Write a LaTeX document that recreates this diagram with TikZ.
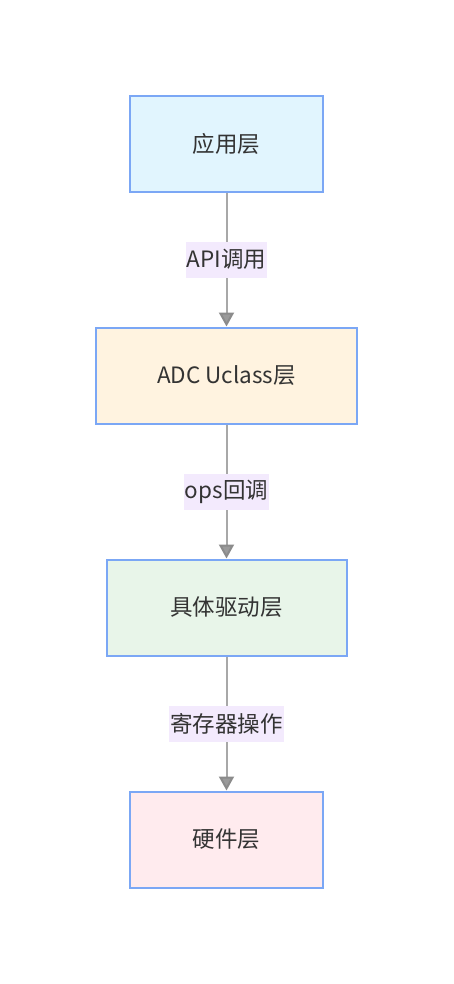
\documentclass[tikz,border=0pt]{standalone}
\usepackage{fontspec}
\setmainfont{Noto Sans CJK SC}
\usetikzlibrary{arrows.meta}
\definecolor{bordc}{HTML}{7BA7F5}
\definecolor{txtc}{HTML}{333333}
\definecolor{lblbg}{HTML}{F3EAFD}
\definecolor{edgec}{HTML}{A8A8A8}
\definecolor{headc}{HTML}{9A9A9A}
\definecolor{fillA}{HTML}{E1F5FE}
\definecolor{fillB}{HTML}{FFF3E0}
\definecolor{fillC}{HTML}{E8F5E9}
\definecolor{fillD}{HTML}{FFEBEE}
\tikzset{
  layer/.style={draw=bordc, line width=2pt, text=txtc, font=\fontsize{22.5}{26}\selectfont, minimum height=96pt, inner sep=0pt},
  elabel/.style={fill=lblbg, text=txtc, font=\fontsize{22.5}{26}\selectfont, inner xsep=1pt, inner ysep=0pt, minimum height=36pt},
  flow/.style={draw=edgec, line width=2pt, -{Triangle[length=14pt,width=15pt,fill=headc,color=headc!90!black]}},
}
\begin{document}
\begin{tikzpicture}[x=1pt,y=-1pt]
\useasboundingbox (0,0) rectangle (453,984);
\node[layer, fill=fillA, minimum width=193pt] (app) at (226.5,144) {应用层};
\node[layer, fill=fillB, minimum width=261pt] (uc) at (226.5,375.5) {ADC Uclass层};
\node[layer, fill=fillC, minimum width=240pt] (drv) at (226.5,607.5) {具体驱动层};
\node[layer, fill=fillD, minimum width=193pt] (hw) at (226.5,839.5) {硬件层};
\draw[flow] (app) -- node[elabel] {API调用} (uc);
\draw[flow] (uc) -- node[elabel] {ops回调} (drv);
\draw[flow] (drv) -- node[elabel] {寄存器操作} (hw);
\end{tikzpicture}
\end{document}
